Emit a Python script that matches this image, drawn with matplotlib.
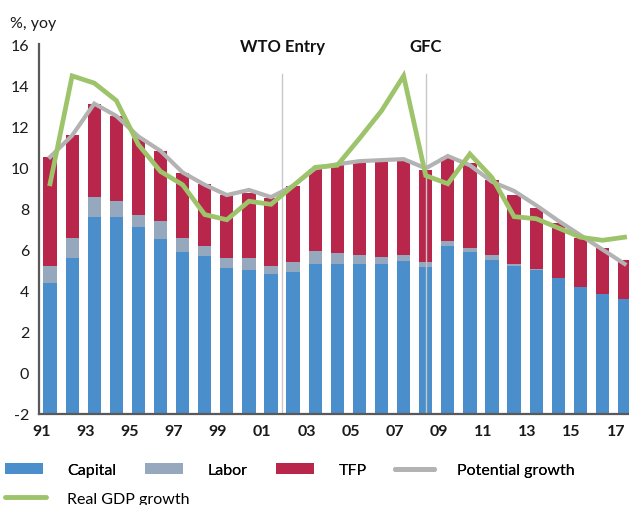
"""China growth decomposition: stacked bars with potential and real GDP lines."""

import matplotlib
matplotlib.use("Agg")
import matplotlib.pyplot as plt
from matplotlib.lines import Line2D
from matplotlib.patches import Patch

plt.rcParams["font.family"] = ["Lato", "DejaVu Sans"]

# Data
years = list(range(1991, 2018))
capital = [4.35, 5.6, 7.6, 7.6, 7.1, 6.5, 5.9, 5.7, 5.1, 5.0, 4.8, 4.9, 5.3, 5.3,
           5.3, 5.3, 5.45, 5.15, 6.15, 5.9, 5.5, 5.2, 5.0, 4.6, 4.2, 3.85, 3.6]
labor = [0.85, 0.95, 0.95, 0.75, 0.6, 0.9, 0.65, 0.45, 0.5, 0.6, 0.4, 0.5, 0.65, 0.55,
         0.45, 0.35, 0.3, 0.25, 0.25, 0.15, 0.25, 0.1, 0.05, 0.0, 0.0, 0.0, 0.0]
tfp = [5.3, 5.0, 4.55, 4.15, 3.75, 3.4, 3.15, 3.05, 3.05, 3.15, 3.3, 3.7, 3.95, 4.25,
       4.45, 4.65, 4.55, 4.45, 4.1, 4.15, 3.65, 3.35, 2.95, 2.7, 2.35, 2.2, 1.9]
potential = [10.5, 11.55, 13.1, 12.5, 11.5, 10.8, 9.75, 9.15, 8.65, 8.9, 8.55, 9.1, 9.95,
             10.15, 10.3, 10.35, 10.4, 9.95, 10.55, 10.1, 9.3, 8.85, 8.15, 7.4, 6.7, 6.0, 5.3]
real_gdp = [9.2, 14.45, 14.1, 13.25, 11.1, 9.8, 9.15, 7.7, 7.45, 8.35, 8.2, 9.1, 10.0,
            10.1, 11.4, 12.75, 14.45, 9.6, 9.2, 10.65, 9.5, 7.6, 7.5, 7.05, 6.6, 6.45, 6.6]
tick_years = years[::2]
tick_labels = [f"{y % 100:02d}" for y in tick_years]
y_ticks = list(range(-2, 17, 2))

events = [(2001.5, "WTO Entry"), (2008, "GFC")]

c_capital = "#4A8ECC"
c_labor = "#96A8BE"
c_tfp = "#B8264B"
c_potential = "#B3B3B3"
c_gdp = "#9DC46A"
c_spine = "#595959"

ymin, ymax = -2, 16

fig = plt.figure(figsize=(6.29, 5.06), dpi=100)
ax = fig.add_axes([0.062, 0.180, 0.938, 0.731])

x = [y - years[0] for y in years]
width = 0.6

cap_h = [c - ymin for c in capital]
ax.bar(x, cap_h, width, bottom=ymin, color=c_capital, zorder=2)
ax.bar(x, labor, width, bottom=capital, color=c_labor, zorder=2)
lab_top = [c + l for c, l in zip(capital, labor)]
ax.bar(x, tfp, width, bottom=lab_top, color=c_tfp, zorder=2)

for ev_year, label in events:
    ex = ev_year - years[0]
    ax.plot([ex, ex], [ymin, 14.55], color="#C8C8C8", linewidth=1.0, zorder=3)
    ax.text(ex, 15.9, label, ha="center", va="center", fontsize=12,
            fontweight="bold", color="#111111")

ax.plot(x, potential, color=c_potential, linewidth=3.0, zorder=4,
        solid_joinstyle="miter")
ax.plot(x, real_gdp, color=c_gdp, linewidth=3.4, zorder=5,
        solid_joinstyle="miter")

ax.set_xlim(-0.5, 26.2)
ax.set_ylim(ymin, ymax)

ax.set_yticks(y_ticks)
ax.set_yticklabels([str(v) for v in y_ticks], fontsize=11.5, color="#1A1A1A")
ax.set_xticks([t - years[0] - 0.4 for t in tick_years])
ax.set_xticklabels(tick_labels, fontsize=11.5, fontweight="bold", color="#1A1A1A")
ax.tick_params(axis="y", length=0, pad=7)
ax.tick_params(axis="x", length=0, pad=7)

for side in ("top", "right"):
    ax.spines[side].set_visible(False)
for side in ("left", "bottom"):
    ax.spines[side].set_color(c_spine)
    ax.spines[side].set_linewidth(1.6)
    ax.spines[side].set_zorder(6)

fig.text(0.016, 0.952, "%, yoy", fontsize=11.5, color="#1A1A1A", va="center")

# Legend: first row of four entries, second row with one
row1 = [
    Patch(facecolor=c_capital, label="Capital"),
    Patch(facecolor=c_labor, label="Labor"),
    Patch(facecolor=c_tfp, label="TFP"),
    Line2D([0], [0], color=c_potential, linewidth=3.5, solid_capstyle="round",
           label="Potential growth"),
]
leg1 = fig.legend(handles=row1, loc="center left", bbox_to_anchor=(0.0, 0.069),
                  ncol=4, frameon=False, fontsize=11.5, handlelength=2.4,
                  handleheight=0.6, handletextpad=1.5, columnspacing=1.8,
                  borderaxespad=0, borderpad=0.3)
fig.add_artist(leg1)
row2 = [Line2D([0], [0], color=c_gdp, linewidth=3.5, solid_capstyle="round",
               label="Real GDP growth")]
fig.legend(handles=row2, loc="center left", bbox_to_anchor=(0.0, 0.012),
           frameon=False, fontsize=11.5, handlelength=2.6,
           handletextpad=1.3, borderaxespad=0, borderpad=0.3)

fig.savefig("out.png", dpi=100)
